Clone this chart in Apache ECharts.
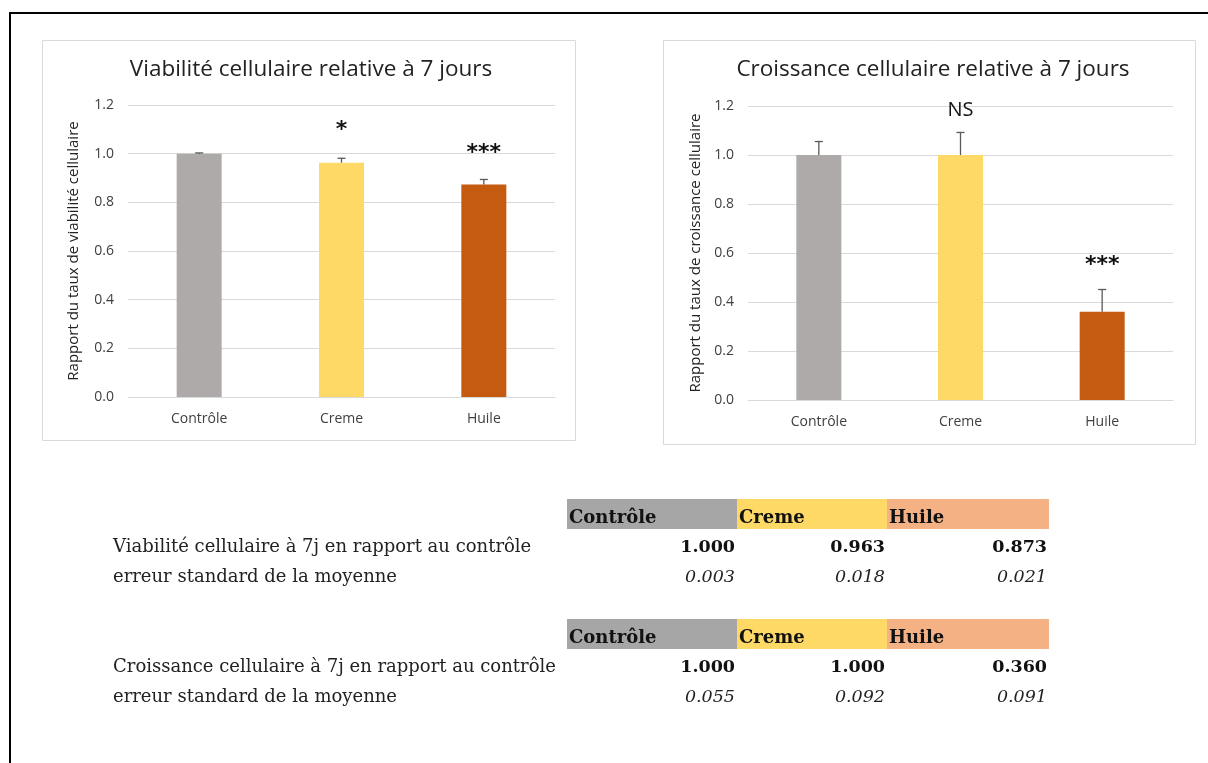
<!DOCTYPE html>
<html>
<head>
<meta charset="utf-8">
<script src="https://cdn.jsdelivr.net/npm/echarts@6/dist/echarts.min.js"></script>
<style>
html,body{margin:0;padding:0;background:#fff;}
#c{width:1208px;height:763px;}
</style>
</head>
<body>
<div id="c"></div>
<script>
// ---- data ----
const categories = ['Contrôle', 'Creme', 'Huile'];
const viabValues = [1.000, 0.963, 0.873];
const viabErr = [0.003, 0.018, 0.021];
const viabMarks = ['', '*', '***'];
const croisValues = [1.000, 1.000, 0.360];
const croisErr = [0.055, 0.092, 0.091];
const croisMarks = ['', 'NS', '***'];
const viabTitle = 'Viabilité cellulaire relative à 7 jours';
const croisTitle = 'Croissance cellulaire relative à 7 jours';
const viabAxisName = 'Rapport du taux de viabilité cellulaire';
const croisAxisName = 'Rapport du taux de croissance cellulaire';
const viabRowLabel = 'Viabilité cellulaire à 7j en rapport au contrôle';
const croisRowLabel = 'Croissance cellulaire à 7j en rapport au contrôle';
const errRowLabel = 'erreur standard de la moyenne';

// ---- styles ----
const barColors = ['#aeaaaa', '#ffd966', '#c55a11'];
const headColors = ['#a6a6a6', '#ffd966', '#f4b183'];
const sansFont = '"Open Sans", Lato, sans-serif';
const serifFont = '"DejaVu Serif", serif';
const txt = '#404040';

const chart = echarts.init(document.getElementById('c'));

function yAxisFor(gi, name, gap) {
  return {
    gridIndex: gi, type: 'value', min: 0, max: 1.2, interval: 0.2,
    name: name, nameLocation: 'middle', nameGap: gap, nameRotate: 90,
    nameTextStyle: { fontFamily: sansFont, fontSize: 15, color: '#222' },
    axisLine: { show: false }, axisTick: { show: false },
    axisLabel: { fontFamily: sansFont, fontSize: 14, color: txt, margin: 14,
      formatter: v => v.toFixed(1) },
    splitLine: { lineStyle: { color: '#d9d9d9', width: 1 } }
  };
}
function xAxisFor(gi) {
  return {
    gridIndex: gi, type: 'category', data: categories,
    axisLine: { lineStyle: { color: '#d9d9d9', width: 1 } },
    axisTick: { show: false },
    axisLabel: { fontFamily: sansFont, fontSize: 14, color: txt, margin: 15 }
  };
}
function barSeries(gi, values) {
  return {
    type: 'bar', xAxisIndex: gi, yAxisIndex: gi, barWidth: 45,
    data: values.map((v, i) => ({ value: v, itemStyle: { color: barColors[i] } })),
    silent: true
  };
}
function errSeries(gi, values, errs, marks, markGap) {
  return {
    type: 'custom', xAxisIndex: gi, yAxisIndex: gi, silent: true, z: 5,
    data: values.map((v, i) => [i, v, errs[i]]),
    renderItem: function (params, api) {
      const i = api.value(0), v = api.value(1), e = api.value(2);
      const base = api.coord([i, v]);
      const top = api.coord([i, v + e]);
      const cw = 4;
      const children = [
        { type: 'line', shape: { x1: base[0], y1: base[1], x2: top[0], y2: top[1] },
          style: { stroke: '#595959', lineWidth: 1.3 } },
        { type: 'line', shape: { x1: top[0] - cw, y1: top[1], x2: top[0] + cw, y2: top[1] },
          style: { stroke: '#595959', lineWidth: 1.3 } }
      ];
      const m = marks[i];
      if (m) {
        const isStar = m.indexOf('*') >= 0;
        children.push({ type: 'text', x: top[0], y: top[1] - markGap[i],
          style: { text: m, fontFamily: isStar ? '"DejaVu Sans", sans-serif' : sansFont,
            fontSize: isStar ? 22 : 20, fontWeight: isStar ? 'bold' : 'normal',
            fill: '#111', align: 'center', verticalAlign: 'middle' } });
      }
      return { type: 'group', children: children };
    }
  };
}

// ---- page graphics ----
const graphics = [];
graphics.push({ type: 'line', shape: { x1: 10, y1: 13, x2: 1208, y2: 13 }, style: { stroke: '#000', lineWidth: 2 } });
graphics.push({ type: 'line', shape: { x1: 10, y1: 12, x2: 10, y2: 763 }, style: { stroke: '#000', lineWidth: 2 } });
graphics.push({ type: 'rect', shape: { x: 42.5, y: 40.5, width: 533, height: 400 }, style: { fill: 'none', stroke: '#d9d9d9', lineWidth: 1 }, z: -1 });
graphics.push({ type: 'rect', shape: { x: 663.5, y: 40.5, width: 532, height: 404 }, style: { fill: 'none', stroke: '#d9d9d9', lineWidth: 1 }, z: -1 });

const colX = [567, 737, 887];
const colW = [170, 150, 162];
function tableBlock(headY, rowLabel, values, errs) {
  for (let i = 0; i < categories.length; i++) {
    graphics.push({ type: 'rect', shape: { x: colX[i], y: headY, width: colW[i], height: 30 },
      style: { fill: headColors[i] } });
    graphics.push({ type: 'text', x: colX[i] + 2, y: headY + 19,
      style: { text: categories[i], fontFamily: serifFont, fontWeight: 'bold', fontSize: 18,
        fill: '#111', verticalAlign: 'middle' } });
    const rx = colX[i] + colW[i] - 2;
    graphics.push({ type: 'text', x: rx, y: headY + 48,
      style: { text: values[i].toFixed(3), fontFamily: serifFont, fontWeight: 'bold', fontSize: 17.5,
        fill: '#111', align: 'right', verticalAlign: 'middle' } });
    graphics.push({ type: 'text', x: rx, y: headY + 78,
      style: { text: errs[i].toFixed(3), fontFamily: serifFont, fontStyle: 'italic', fontSize: 17.5,
        fill: '#222', align: 'right', verticalAlign: 'middle' } });
  }
  graphics.push({ type: 'text', x: 113, y: headY + 48,
    style: { text: rowLabel, fontFamily: serifFont, fontSize: 18, fill: '#222', verticalAlign: 'middle' } });
  graphics.push({ type: 'text', x: 113, y: headY + 78,
    style: { text: errRowLabel, fontFamily: serifFont, fontSize: 18, fill: '#222', verticalAlign: 'middle' } });
}
tableBlock(499, viabRowLabel, viabValues, viabErr);
tableBlock(619, croisRowLabel, croisValues, croisErr);

const option = {
  backgroundColor: '#fff',
  animation: false,
  title: [
    { text: viabTitle, left: 306, top: 53, textAlign: 'center',
      textStyle: { fontFamily: sansFont, fontSize: 22.5, fontWeight: 'normal', color: '#222' } },
    { text: croisTitle, left: 928, top: 53, textAlign: 'center',
      textStyle: { fontFamily: sansFont, fontSize: 22.5, fontWeight: 'normal', color: '#222' } }
  ],
  grid: [
    { left: 128, top: 105, width: 427, height: 292 },
    { left: 748, top: 106, width: 425, height: 294 }
  ],
  xAxis: [xAxisFor(0), xAxisFor(1)],
  yAxis: [yAxisFor(0, viabAxisName, 47), yAxisFor(1, croisAxisName, 45)],
  series: [
    barSeries(0, viabValues),
    barSeries(1, croisValues),
    errSeries(0, viabValues, viabErr, viabMarks, [0, 28, 26]),
    errSeries(1, croisValues, croisErr, croisMarks, [0, 22, 24])
  ],
  graphic: graphics
};
chart.setOption(option);
</script>
</body>
</html>
